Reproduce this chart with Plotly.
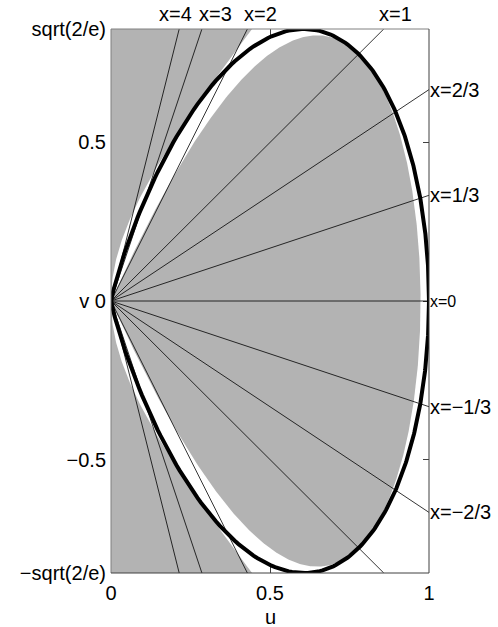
import numpy as np
import plotly.graph_objects as go

# ---- data ----
V = np.sqrt(2 / np.e)                       # v-range half height
ray_slopes = [4, 3, 2, 1, 2/3, 1/3, 0, -1/3, -2/3, -1, -2, -3, -4]
ray_labels = ["x=4", "x=3", "x=2", "x=1", "x=2/3", "x=1/3", "x=0",
              "x=\u22121/3", "x=\u22122/3", "", "", "", ""]
xtick_vals = [0, 0.5, 1]
xtick_text = ["0", "0.5", "1"]
ytick_vals = [-V, -0.5, 0, 0.5, V]
ytick_text = ["\u2212sqrt(2/e)", "\u22120.5", "v 0", "0.5", "sqrt(2/e)"]
accept_c = 4 * np.exp(0.25)      # quick accept: x^2 <= 5 - 4 e^{1/4} u
accept_a = 5.0
reject_c = 4 * np.exp(-1.35)     # quick reject: x^2 >= 4 e^{-1.35}/u + 1.4
reject_b = 1.4

GRAY = "#b3b3b3"
FONT = "Liberation Sans, Arial, sans-serif"

fig = go.Figure()

# outer (quick-reject) gray regions: |v| >= sqrt(reject_c*u + reject_b*u^2)
u_top = (-reject_c + np.sqrt(reject_c**2 + 4 * reject_b * V**2)) / (2 * reject_b)
uo = np.linspace(0, u_top, 400)
vo = np.sqrt(reject_c * uo + reject_b * uo**2)
for sgn in (1, -1):
    xs = np.concatenate([uo, [0, 0]])
    ys = np.concatenate([sgn * vo, [sgn * V, 0]])
    fig.add_trace(go.Scatter(x=xs, y=ys, mode="lines", fill="toself",
                             fillcolor=GRAY, line=dict(width=0, color=GRAY),
                             hoverinfo="skip", showlegend=False))

# inner (quick-accept) gray region
xa = np.linspace(-np.sqrt(accept_a), np.sqrt(accept_a), 800)
ua = (accept_a - xa**2) / accept_c
fig.add_trace(go.Scatter(x=ua, y=xa * ua, mode="lines", fill="toself",
                         fillcolor=GRAY, line=dict(width=0, color=GRAY),
                         hoverinfo="skip", showlegend=False))

# rays x = v/u
rx, ry = [], []
for s in ray_slopes:
    if abs(s) <= V:
        ue, ve = 1.0, s
    else:
        ue, ve = V / abs(s), np.sign(s) * V
    rx += [0, ue, None]
    ry += [0, ve, None]
fig.add_trace(go.Scatter(x=rx, y=ry, mode="lines",
                         line=dict(color="black", width=0.8),
                         hoverinfo="skip", showlegend=False))

# acceptance teardrop v^2 = -4 u^2 ln u  (param by x = v/u)
xt = np.concatenate([-np.logspace(1.2, -3, 600), [0], np.logspace(-3, 1.2, 600)])
ut = np.exp(-xt**2 / 4)
fig.add_trace(go.Scatter(x=ut, y=xt * ut, mode="lines",
                         line=dict(color="black", width=4),
                         hoverinfo="skip", showlegend=False))

# labels
top_shift = {"x=4": -21, "x=3": -4, "x=2": -4, "x=1": -6}
for s, lab in zip(ray_slopes, ray_labels):
    if not lab:
        continue
    if abs(s) <= V:
        fig.add_annotation(x=1, y=s, text=lab, showarrow=False,
                           xanchor="left", yanchor="middle", xshift=0,
                           borderpad=0,
                           font=dict(size=16 if s == 0 else 20, color="black", family=FONT))
    else:
        fig.add_annotation(x=V / s, y=V, text=lab, showarrow=False,
                           xanchor="left", yanchor="middle", height=18,
                           borderpad=0,
                           xshift=top_shift.get(lab, -4), yshift=15,
                           font=dict(size=20, color="black", family=FONT))

# axis title "u"
fig.add_annotation(x=0.5, y=0, xref="paper", yref="paper", text="u",
                   showarrow=False, xanchor="center", yanchor="top",
                   yshift=-32, borderpad=0,
                   font=dict(size=20, color="black", family=FONT))

# axis box lines
fig.add_shape(type="line", xref="paper", yref="paper", x0=0, y0=0, x1=0, y1=1,
              line=dict(color="#808080", width=1))
fig.add_shape(type="line", xref="paper", yref="paper", x0=0, y0=1, x1=1, y1=1,
              line=dict(color="#808080", width=1))
fig.add_shape(type="line", xref="paper", yref="paper", x0=1, y0=0, x1=1, y1=1,
              line=dict(color="#404040", width=1))
fig.add_shape(type="line", xref="paper", yref="paper", x0=0, y0=0, x1=1, y1=0,
              line=dict(color="#404040", width=1))

fig.update_layout(
    width=498, height=627,
    margin=dict(l=111, r=69, t=29, b=54, autoexpand=False),
    plot_bgcolor="white", paper_bgcolor="white",
    font=dict(family=FONT, size=20, color="black"),
    xaxis=dict(range=[0, 1], tickvals=xtick_vals, ticktext=xtick_text,
               ticks="inside", ticklen=6, tickcolor="#404040", mirror="ticks",
               showline=False, showgrid=False, zeroline=False, layer="below traces",
               ticklabelstandoff=6, automargin=False),
    yaxis=dict(range=[-V, V], tickvals=ytick_vals, ticktext=ytick_text,
               ticks="inside", ticklen=6, tickcolor="#404040", mirror="ticks",
               showline=False, showgrid=False, zeroline=False, layer="below traces",
               ticklabelstandoff=4, automargin=False),
)

# remove the page's default body margin so the figure fills the window
fig.write_html("out.html",
               config={"displayModeBar": False},
               post_script="document.body.style.margin='0';"
                           "document.body.style.overflow='hidden';")
